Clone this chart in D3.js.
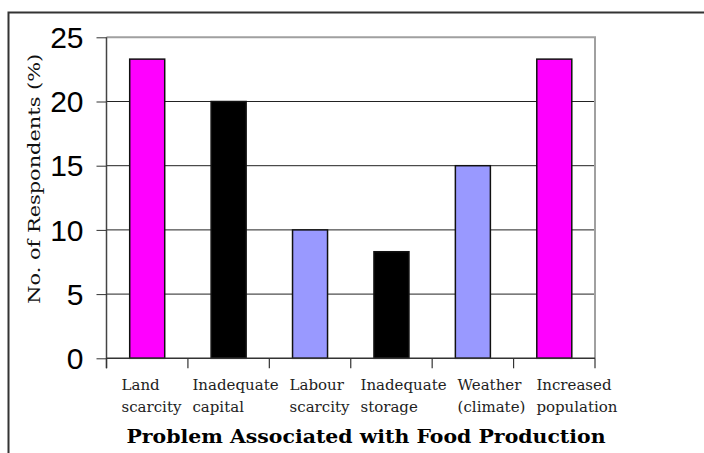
<!DOCTYPE html>
<html>
<head>
<meta charset="utf-8">
<script src="https://cdn.jsdelivr.net/npm/d3@7"></script>
<style>
    body { margin: 0; background: #fff; }
    svg { display: block; }
</style>
</head>
<body>
<div id="chart"></div>
<script>
'use strict';

// data
const categories = ['Land scarcity', 'Inadequate capital', 'Labour scarcity', 'Inadequate storage', 'Weather climate', 'Increased population'];
const labelLines = [['Land', 'scarcity'], ['Inadequate', 'capital'], ['Labour', 'scarcity'], ['Inadequate', 'storage'], ['Weather', '(climate)'], ['Increased', 'population']];
const values = [23.3, 20.0, 10.0, 8.3, 15.0, 23.3];
const barColours = ['#ff00ff', '#000000', '#9999ff', '#000000', '#9999ff', '#ff00ff'];
const yTicks = [0, 5, 10, 15, 20, 25];

let svg = null;
let layers = {};
let xScale;
let yScale;

let config = {
    width: 704,
    height: 453,
    plot: { left: 106.5, right: 595, top: 37.3, bottom: 358.3 }
};

let renderSVG = function renderSVG(element) {
    svg = d3.select(element)
        .append('svg')
        .attr('width', config.width)
        .attr('height', config.height);

    // outer frame (only top and left show in the picture)
    svg.append('path')
        .attr('d', 'M8.5,' + config.height + 'V12.5H' + config.width)
        .attr('fill', 'none')
        .attr('stroke', '#333')
        .attr('stroke-width', 2);
};

let renderLayers = function renderLayers() {
    layers.grid = svg.append('g').attr('class', 'grid');
    layers.bars = svg.append('g').attr('class', 'bars');
    layers.axis = svg.append('g').attr('class', 'axis');
    layers.labels = svg.append('g').attr('class', 'labels');
};

let setScale = function setScale() {
    xScale = d3.scaleBand()
        .domain(categories)
        .range([config.plot.left, config.plot.right])
        .paddingInner(0.57)
        .paddingOuter(0.285);

    yScale = d3.scaleLinear()
        .domain([0, 25])
        .range([config.plot.bottom, config.plot.top]);
};

let renderGrid = function renderGrid() {
    layers.grid.selectAll('.gridline')
        .data(yTicks.filter(d => d > 0 && d < 25))
        .enter()
        .append('line')
        .attr('class', 'gridline')
        .attr('x1', config.plot.left)
        .attr('x2', config.plot.right)
        .attr('y1', d => yScale(d))
        .attr('y2', d => yScale(d))
        .attr('stroke', '#222')
        .attr('stroke-width', 1);

    // grey top and right border of the plot area
    layers.grid.append('path')
        .attr('d', 'M' + config.plot.left + ',' + yScale(25) + 'H' + config.plot.right + 'V' + yScale(0))
        .attr('fill', 'none')
        .attr('stroke', '#a0a0a0')
        .attr('stroke-width', 2);
};

let renderYAxis = function renderYAxis() {
    let axis = d3.axisLeft(yScale)
        .tickValues(yTicks)
        .tickSize(10)
        .tickPadding(13);

    let g = layers.axis.append('g')
        .attr('class', 'y-axis')
        .attr('transform', 'translate(' + config.plot.left + ',0)')
        .call(axis);

    g.select('.domain').attr('d', 'M0,' + yScale(25) + 'V' + (yScale(0) + 10)).attr('stroke', '#444').attr('stroke-width', 1.5);
    g.selectAll('.tick line').attr('stroke', '#333');
    g.selectAll('.tick text')
        .attr('font-family', 'Liberation Sans, Arial, sans-serif')
        .attr('font-size', 30)
        .attr('fill', '#000')
        .attr('dy', '0.34em');

    layers.labels.append('text')
        .attr('transform', 'translate(40,' + ((yScale(0) + yScale(25)) / 2 - 19) + ') rotate(-90)')
        .attr('text-anchor', 'middle')
        .attr('font-family', 'DejaVu Serif, serif')
        .attr('font-size', 17)
        .attr('textLength', 250)
        .attr('lengthAdjust', 'spacingAndGlyphs')
        .attr('fill', '#111')
        .text('No. of Respondents (%)');
};

let renderXAxis = function renderXAxis() {
    let bounds = categories.map(c => xScale(c) - xScale.step() * xScale.paddingInner() / 2);
    bounds.push(config.plot.right);

    layers.axis.append('line')
        .attr('x1', config.plot.left)
        .attr('x2', config.plot.right)
        .attr('y1', yScale(0))
        .attr('y2', yScale(0))
        .attr('stroke', '#333')
        .attr('stroke-width', 1.5);

    layers.axis.selectAll('.x-tick')
        .data(bounds)
        .enter()
        .append('line')
        .attr('class', 'x-tick')
        .attr('x1', d => d)
        .attr('x2', d => d)
        .attr('y1', yScale(0))
        .attr('y2', yScale(0) + 10)
        .attr('stroke', '#333')
        .attr('stroke-width', 1.2);

    // category labels sit in a text row, left aligned, one space apart
    let cursor = 121.5;
    labelLines.forEach(lines => {
        let t = layers.labels.append('text')
            .attr('font-family', 'DejaVu Serif, serif')
            .attr('font-size', 15)
            .attr('fill', '#222');
        lines.forEach((line, i) => {
            t.append('tspan')
                .attr('x', cursor)
                .attr('y', 390 + i * 21.5)
                .text(line);
        });
        let w = d3.max(t.selectAll('tspan').nodes(), n => n.getComputedTextLength());
        cursor += w + 11;
    });

    layers.labels.append('text')
        .attr('x', 366)
        .attr('y', 443)
        .attr('text-anchor', 'middle')
        .attr('font-family', 'DejaVu Serif, serif')
        .attr('font-weight', 'bold')
        .attr('font-size', 19)
        .attr('textLength', 479)
        .attr('lengthAdjust', 'spacingAndGlyphs')
        .attr('fill', '#000')
        .text('Problem Associated  with Food Production');
};

let drawBars = function drawBars() {
    layers.bars.selectAll('.bar')
        .data(values)
        .enter()
        .append('rect')
        .attr('class', 'bar')
        .attr('x', (d, i) => xScale(categories[i]))
        .attr('width', xScale.bandwidth())
        .attr('y', d => yScale(d))
        .attr('height', d => yScale(0) - yScale(d))
        .attr('fill', (d, i) => barColours[i])
        .attr('stroke', '#111')
        .attr('stroke-width', 1.5);
};

renderSVG('#chart');
renderLayers();
setScale();
renderGrid();
drawBars();
renderYAxis();
renderXAxis();
</script>
</body>
</html>
